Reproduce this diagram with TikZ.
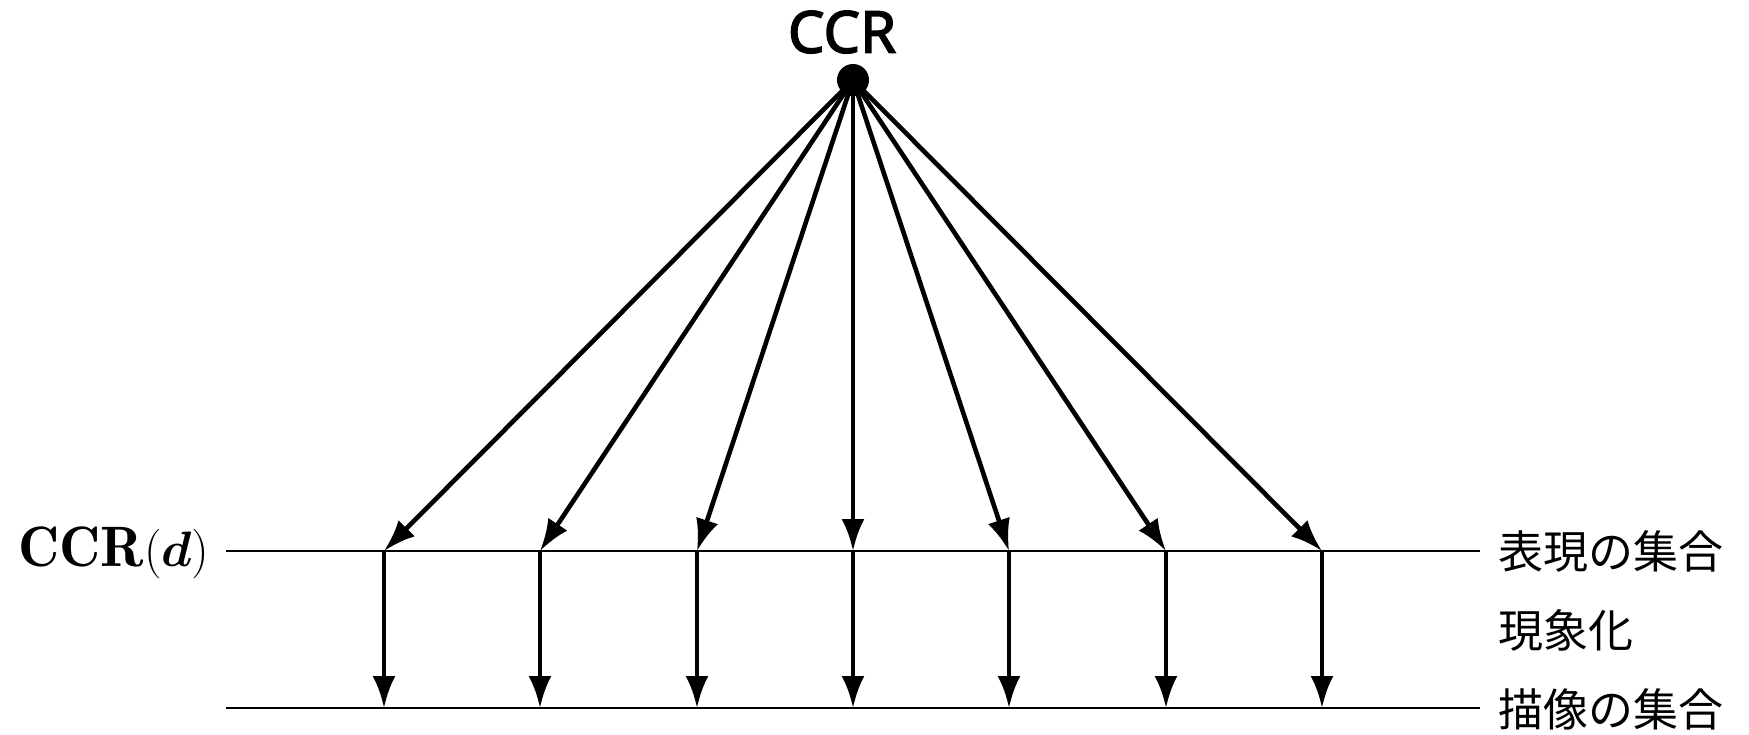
\documentclass[tikz,border=0pt]{standalone}
\usepackage{bm}
\usepackage{fontspec}
\newfontfamily\jpfont{Noto Sans CJK JP}
\newfontfamily\ccrfont{Noto Sans}[FakeBold=2.5]
\usetikzlibrary{arrows.meta}
\tikzset{
  hline/.style={line width=1pt},
  maparrow/.style={line width=2.3pt,-{Latex[length=16pt,width=11.5pt]}},
  jplabel/.style={anchor=west,inner sep=0pt,font=\jpfont\fontsize{22.5pt}{26pt}\selectfont},
}
\begin{document}
\begin{tikzpicture}[x=0.5pt,y=-0.5pt]
\useasboundingbox (0,0) rectangle (1749,734);
% source point
\node (dot) [circle,fill=black,inner sep=0pt,minimum size=16pt] at (853,80) {};
\node (ccr) [inner sep=0pt,font=\ccrfont\fontsize{29pt}{32pt}\selectfont] at (842,32) {CCR};
% lines
\coordinate (uL) at (226,551);
\coordinate (uR) at (1480,551);
\coordinate (lL) at (226,708);
\coordinate (lR) at (1480,708);
\draw[hline] (uL) -- (uR);
\draw[hline] (lL) -- (lR);
% labels
\node (ccrd) [anchor=east,inner sep=0pt,font=\fontsize{28.5pt}{31pt}\selectfont] at (210,553) {$\mathbf{CCR}(\bm{d})$};
\node (rep) [jplabel] at (1498,551) {表現の集合};
\node (phen) [jplabel] at (1498,630) {現象化};
\node (img) [jplabel] at (1498,709) {描像の集合};
% arrows
\foreach \i/\x in {1/384,2/540,3/697,4/853,5/1009,6/1166,7/1322}{
  \coordinate (u\i) at (\x,551);
  \coordinate (l\i) at (\x,708);
  \draw[maparrow] (dot.center) -- (u\i);
  \draw[maparrow] (u\i) -- (l\i);
}
\end{tikzpicture}
\end{document}
